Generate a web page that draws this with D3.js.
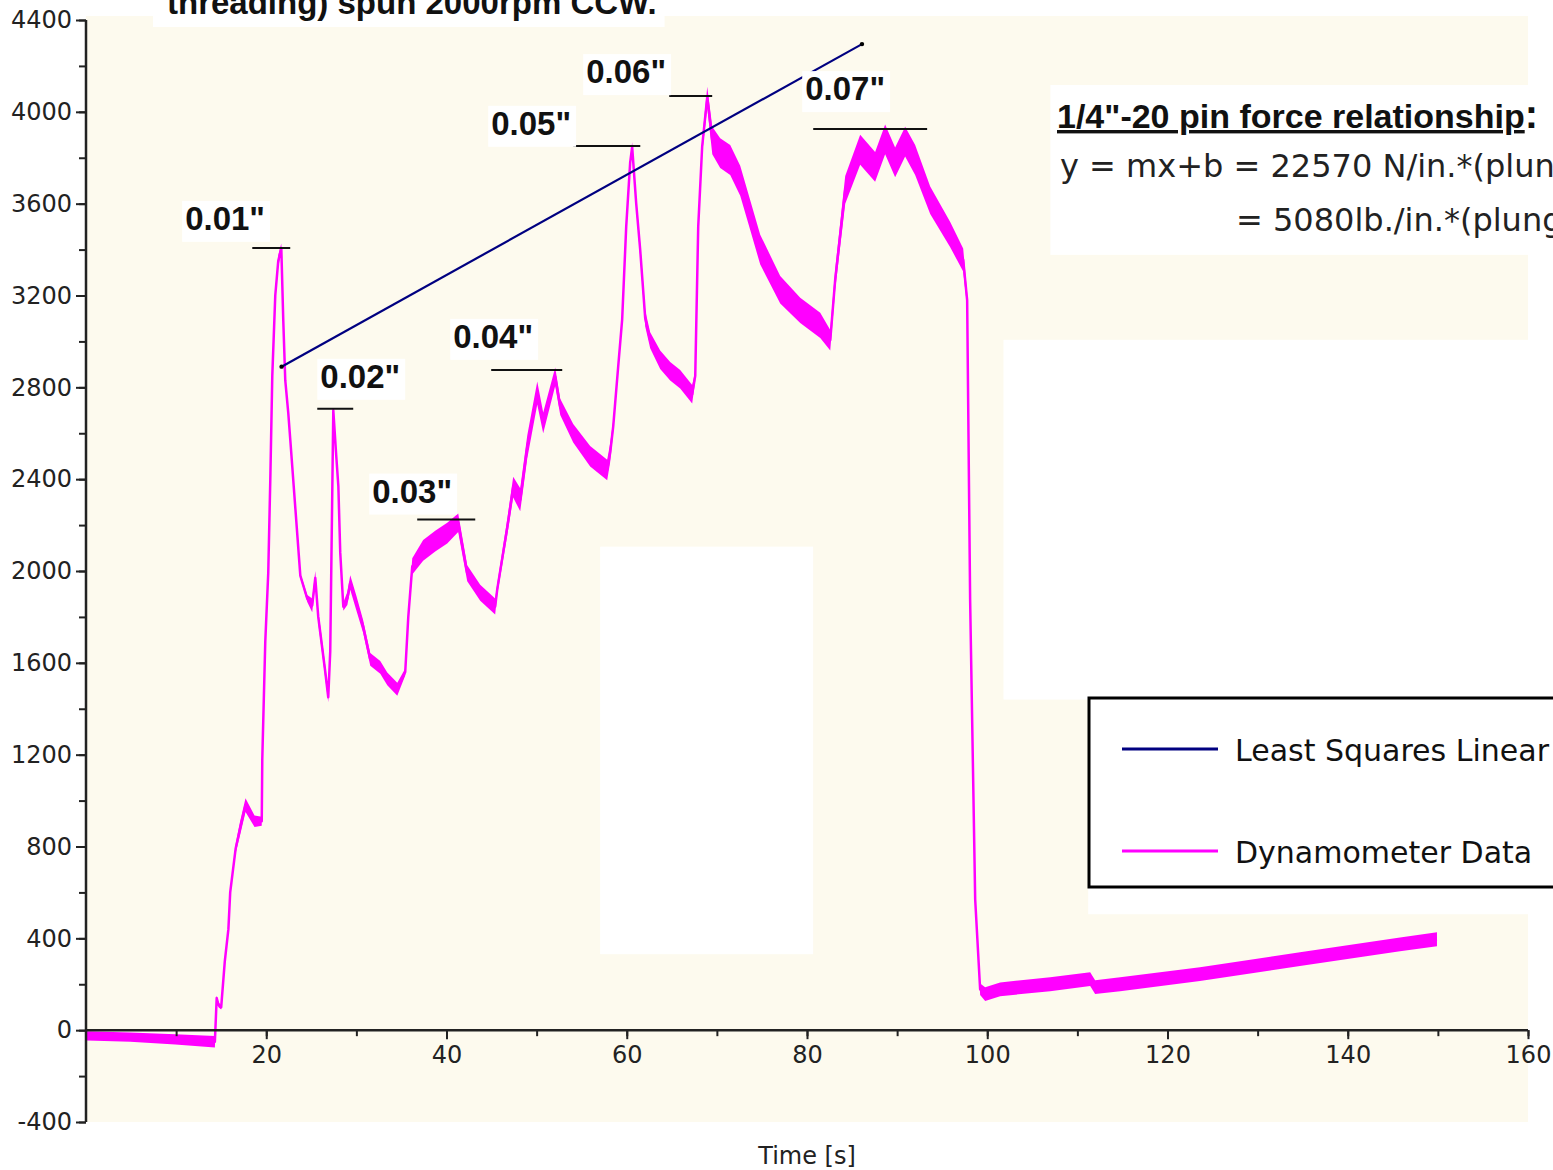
<!DOCTYPE html>
<html>
<head>
<meta charset="utf-8">
<script src="https://cdn.jsdelivr.net/npm/d3@7"></script>
<style>
  body { margin: 0; background: #fff; overflow: hidden; }
  svg { display: block; }
</style>
</head>
<body>
<div id="chart"></div>
<script>
// dynamometer trace
const timeS = [0.1, 4.9, 9.9, 14.3, 14.5, 14.7, 15.0, 15.4, 15.8, 16.0, 16.6, 17.1, 17.7, 18.7, 19.5,
  19.56, 19.89, 20.22, 20.45, 20.67, 21.0, 21.33, 21.67, 21.89, 22.11, 22.44, 22.67, 23.78, 24.55,
  25.1, 25.44, 25.77, 26.0, 26.55, 26.88, 27.1, 27.44, 27.77, 28.0, 28.21, 28.55, 29.0, 29.32, 30.0,
  30.74, 31.54, 32.65, 33.43, 34.54, 35.42, 35.76, 36.2, 37.41, 38.75, 40.08, 41.3, 42.3, 43.74,
  45.4, 45.63, 46.74, 47.4, 48.18, 48.96, 50.07, 50.73, 52.06, 52.62, 54.06, 55.94, 57.83, 58.16,
  58.5, 59.05, 59.49, 59.94, 60.38, 60.6, 61.05, 61.49, 62.05, 62.6, 63.71, 64.82, 65.93, 67.26,
  67.6, 67.93, 68.37, 68.93, 69.49, 70.37, 71.48, 72.59, 73.7, 74.81, 77.03, 79.25, 81.47, 82.58,
  83.13, 84.24, 85.9, 87.56, 88.67, 89.78, 90.89, 92.0, 93.67, 95.89, 97.33, 97.77, 98.1, 98.66,
  99.21, 99.77, 101.43, 106.98, 111.42, 111.97, 114.75, 123.6, 134.7, 145.8, 149.9]
const forceN = [-25, -30, -40, -50, 140, 110, 100, 300, 440, 600, 790, 880, 980, 910, 910,
  1180, 1690, 1990, 2400, 2850, 3200, 3350, 3407, 3090, 2830, 2690, 2570, 1980, 1880,
  1850, 1970, 1800, 1730, 1560, 1450, 1650, 2700, 2500, 2370, 2080, 1845, 1880, 1950, 1860,
  1760, 1615, 1580, 1530, 1485, 1560, 1800, 2020, 2090, 2130, 2165, 2210, 1990, 1905,
  1845, 1920, 2190, 2365, 2310, 2540, 2775, 2645, 2846, 2715, 2600, 2500, 2440, 2515,
  2630, 2890, 3095, 3500, 3780, 3847, 3600, 3400, 3100, 3005, 2920, 2870, 2835, 2770,
  2850, 3500, 3850, 4064, 3875, 3820, 3790, 3700, 3550, 3400, 3225, 3135, 3070, 3005,
  3270, 3660, 3835, 3760, 3880, 3780, 3870, 3790, 3615, 3465, 3355, 3180, 1875, 570,
  178, 157, 178, 200, 222, 187, 200, 244, 309, 374, 396]
const spreadN = [20, 20, 22, 25, 10, 10, 10, 10, 10, 10, 20, 30, 30, 25, 20,
  8, 8, 8, 8, 8, 20, 25, 20, 10, 8, 8, 8, 10, 15,
  30, 30, 28, 28, 28, 22, 8, 10, 10, 10, 8, 18, 28, 32, 32,
  28, 28, 28, 28, 28, 15, 15, 35, 45, 45, 45, 40, 35, 35,
  35, 25, 35, 45, 50, 50, 50, 45, 40, 35, 40, 45, 45, 40,
  25, 20, 15, 15, 15, 20, 25, 30, 35, 35, 40, 40, 40, 40,
  20, 20, 30, 45, 60, 65, 65, 65, 65, 65, 60, 55, 55, 45,
  45, 60, 65, 65, 65, 65, 65, 65, 60, 55, 50, 30, 10, 10,
  25, 30, 30, 30, 30, 30, 30, 30, 30, 30, 30]

// least squares fit end points
const fitT = [21.7, 86.1]
const fitN = [2890, 4295]

// plunge depth annotations
const peakNames = ['0.01"', '0.02"', '0.03"', '0.04"', '0.05"', '0.06"', '0.07"']
const peakStartT = [18.45, 25.66, 36.75, 44.96, 54.06, 64.71, 80.69]
const peakEndT = [22.66, 29.65, 43.19, 52.84, 61.5, 69.48, 93.33]
const peakN = [3407, 2707, 2224, 2876, 3851, 4069, 3925]
const labelT = [11.0, 26.0, 31.76, 40.75, 44.96, 55.5, 79.8]
const labelN = [3486, 2798, 2298, 2972, 3900, 4125, 4051]

const yMajor = d3.range(-400, 4401, 400)
const yMinor = d3.range(-400, 4401, 200)
const xMajor = d3.range(20, 161, 20)
const xMinor = d3.range(10, 161, 10)

const legendNames = ['Least Squares Linear', 'Dynamometer Data']
const legendColors = ['#000080', '#ff00ff']

// white patches over the cream plot background (time, force corners)
const patches = [
  [57.05, 80.68, 2106, 331],
  [101.8, 163, 3007, 1440],
  [111.2, 163, 1484, 505],
  [107.0, 163, 4117, 3377]
]

const W = 1553, H = 1170

const svg = d3.select('#chart')
  .append('svg')
  .attr('width', W)
  .attr('height', H)

const x = d3.scaleLinear().domain([0, 160]).range([86, 1528])
const y = d3.scaleLinear().domain([-400, 4400]).range([1122, 20])

// plot background
svg.append('rect')
  .attr('x', x(0)).attr('y', y(4400) - 4)
  .attr('width', x(160) - x(0)).attr('height', y(-400) - y(4400) + 4)
  .attr('fill', '#fdfaee')

svg.selectAll('.patch')
  .data(patches)
  .join('rect')
  .attr('class', 'patch')
  .attr('x', d => x(d[0]))
  .attr('y', d => y(d[2]))
  .attr('width', d => x(d[1]) - x(d[0]))
  .attr('height', d => y(d[3]) - y(d[2]))
  .attr('fill', '#fff')

// title (cut off at the top, as in the source)
const title = svg.append('text')
  .attr('x', 167).attr('y', 14)
  .attr('font-family', 'Liberation Sans, Arial, sans-serif')
  .attr('font-weight', 'bold')
  .attr('font-size', 33)
  .attr('fill', '#111')
  .text('threading) spun 2000rpm CCW.')
const tb = title.node().getBBox()
svg.insert('rect', 'text')
  .attr('x', tb.x - 14).attr('y', 0)
  .attr('width', tb.width + 22).attr('height', 27)
  .attr('fill', '#fff')

const pts = timeS.map((t, i) => ({ t: t, v: forceN[i], s: spreadN[i] }))

svg.append('path')
  .datum(pts)
  .attr('fill', '#ff00ff')
  .attr('d', d3.area()
    .x(d => x(d.t))
    .y0(d => y(d.v - d.s))
    .y1(d => y(d.v + d.s)))

svg.append('path')
  .datum(pts)
  .attr('fill', 'none')
  .attr('stroke', '#ff00ff')
  .attr('stroke-width', 2.5)
  .attr('stroke-linejoin', 'round')
  .attr('d', d3.line().x(d => x(d.t)).y(d => y(d.v)))

// fit line
svg.append('line')
  .attr('x1', x(fitT[0])).attr('y1', y(fitN[0]))
  .attr('x2', x(fitT[1])).attr('y2', y(fitN[1]))
  .attr('stroke', '#000080')
  .attr('stroke-width', 2.2)

svg.selectAll('.fitdot')
  .data(fitT)
  .join('circle')
  .attr('class', 'fitdot')
  .attr('cx', (d, i) => x(d))
  .attr('cy', (d, i) => y(fitN[i]))
  .attr('r', 2.2)
  .attr('fill', '#000')

// peak bars and labels
svg.selectAll('.peakbar')
  .data(peakNames)
  .join('line')
  .attr('class', 'peakbar')
  .attr('x1', (d, i) => x(peakStartT[i]))
  .attr('x2', (d, i) => x(peakEndT[i]))
  .attr('y1', (d, i) => y(peakN[i]))
  .attr('y2', (d, i) => y(peakN[i]))
  .attr('stroke', '#111')
  .attr('stroke-width', 2)

const labels = svg.append('g')
  .selectAll('g')
  .data(peakNames)
  .join('g')

labels.append('text')
  .attr('x', (d, i) => x(labelT[i]))
  .attr('y', (d, i) => y(labelN[i]))
  .attr('font-family', 'Liberation Sans, Arial, sans-serif')
  .attr('font-weight', 'bold')
  .attr('font-size', 33)
  .attr('fill', '#111')
  .text(d => d)

labels.each(function () {
  const g = d3.select(this)
  const b = g.select('text').node().getBBox()
  g.insert('rect', 'text')
    .attr('x', b.x - 3).attr('y', b.y + 1)
    .attr('width', b.width + 8).attr('height', b.height + 4)
    .attr('fill', '#fff')
})

// axes
const tickFont = 'DejaVu Sans, Verdana, sans-serif'

svg.append('g')
  .attr('transform', `translate(${x(0)},0)`)
  .call(d3.axisLeft(y).tickValues(yMinor).tickSize(7).tickFormat(''))
  .call(g => g.select('.domain').remove())
  .selectAll('line').attr('stroke', '#222').attr('stroke-width', 2)

svg.append('g')
  .attr('transform', `translate(${x(0)},0)`)
  .call(d3.axisLeft(y).tickValues(yMajor).tickSize(10).tickPadding(4).tickFormat(d => String(d)))
  .call(g => g.select('.domain').attr('stroke', '#222').attr('stroke-width', 2.5)
    .attr('d', `M0,${y(-400)}V${y(4400)}`))
  .call(g => g.selectAll('line').attr('stroke', '#222').attr('stroke-width', 2))
  .selectAll('text')
  .attr('font-family', tickFont)
  .attr('font-size', 24)
  .attr('fill', '#222')

svg.append('g')
  .attr('transform', `translate(0,${y(0)})`)
  .call(d3.axisBottom(x).tickValues(xMinor).tickSize(6).tickFormat(''))
  .call(g => g.select('.domain').remove())
  .selectAll('line').attr('stroke', '#222').attr('stroke-width', 2)

svg.append('g')
  .attr('transform', `translate(0,${y(0)})`)
  .call(d3.axisBottom(x).tickValues(xMajor).tickSize(9).tickPadding(7))
  .call(g => g.select('.domain').attr('stroke', '#222').attr('stroke-width', 2.5)
    .attr('d', `M${x(0)},0H${x(160)}`))
  .call(g => g.selectAll('line').attr('stroke', '#222').attr('stroke-width', 2))
  .selectAll('text')
  .attr('font-family', tickFont)
  .attr('font-size', 24)
  .attr('fill', '#222')

svg.append('text')
  .attr('x', x(80))
  .attr('y', 1164)
  .attr('text-anchor', 'middle')
  .attr('font-family', tickFont)
  .attr('font-size', 24)
  .attr('fill', '#222')
  .text('Time [s]')

// relationship note
const note = svg.append('text')
  .attr('x', 1057).attr('y', 128)
  .attr('font-family', 'Liberation Sans, Arial, sans-serif')
  .attr('font-weight', 'bold')
  .attr('font-size', 34)
  .attr('fill', '#111')
note.append('tspan')
  .attr('text-decoration', 'underline')
  .text('1/4"-20 pin force relationship')
note.append('tspan')
  .attr('font-size', 40)
  .text(':')

svg.append('text')
  .attr('x', 1060).attr('y', 177)
  .attr('font-family', tickFont)
  .attr('font-size', 32)
  .attr('fill', '#222')
  .text('y = mx+b = 22570 N/in.*(plun')

svg.append('text')
  .attr('x', 1236).attr('y', 231)
  .attr('font-family', tickFont)
  .attr('font-size', 32)
  .attr('fill', '#222')
  .text('= 5080lb./in.*(plung')

// legend
const legend = svg.append('g')
legend.append('rect')
  .attr('x', 1089).attr('y', 698)
  .attr('width', 480).attr('height', 189)
  .attr('fill', '#fff')
  .attr('stroke', '#000')
  .attr('stroke-width', 3)

const items = legend.selectAll('.item')
  .data(legendNames)
  .join('g')
  .attr('class', 'item')
  .attr('transform', (d, i) => `translate(1122,${749 + i * 102})`)

items.append('line')
  .attr('x1', 0).attr('x2', 96)
  .attr('stroke', (d, i) => legendColors[i])
  .attr('stroke-width', 3)

items.append('text')
  .attr('x', 113)
  .attr('y', 12)
  .attr('font-family', tickFont)
  .attr('font-size', 30)
  .attr('fill', '#111')
  .text(d => d)
</script>
</body>
</html>
